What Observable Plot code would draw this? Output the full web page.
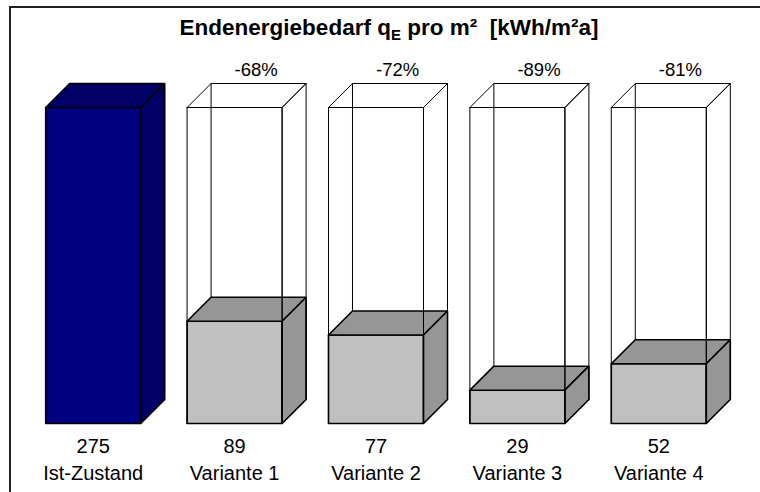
<!DOCTYPE html>
<html>
<head>
<meta charset="utf-8">
<script src="https://cdn.jsdelivr.net/npm/d3@7"></script>
<script src="https://cdn.jsdelivr.net/npm/@observablehq/plot@0.6"></script>
<style>
  html, body { margin: 0; padding: 0; background: #fff; }
  #wrap { position: relative; width: 760px; height: 492px; overflow: hidden; font-family: Arial, "Liberation Sans", sans-serif; }
  #frame { position: absolute; left: 9px; top: 6px; width: 800px; height: 600px; border-left: 2px solid #222; border-top: 2px solid #222; }
  #title { position: absolute; left: 9px; top: 15px; width: 760px; text-align: center; font: bold 22.5px Arial, "Liberation Sans", sans-serif; line-height: 26px; color: #000; }
  #title sub { font-size: 15px; vertical-align: -5px; line-height: 0; }
  #chart { position: absolute; left: 0; top: 0; }
</style>
</head>
<body>
<div id="wrap">
  <div id="frame"></div>
  <div id="chart"></div>
  <div id="title">Endenergiebedarf q<sub>E</sub> pro m²&nbsp; [kWh/m²a]</div>
</div>
<script>
// ---- data ----
const categories = ["Ist-Zustand", "Variante 1", "Variante 2", "Variante 3", "Variante 4"];
const values = [275, 89, 77, 29, 52];
const reductions = ["", "-68%", "-72%", "-89%", "-81%"];

// ---- geometry (in scale units) ----
const hw = 0.336;      // half width of front face (x units)
const dxv = 0.1697;    // depth offset x
const dyv = 20.886;    // depth offset y (value units)
const ref = values[0];

function faces(i, v, prefix) {
  const c = i, L = c - hw, R = c + hw;
  const f = [];
  const add = (name, pts) => pts.forEach(([x, y]) => f.push({id: prefix + i + name, x, y}));
  add("front", [[L, 0], [R, 0], [R, v], [L, v], [L, 0]]);
  add("top", [[L, v], [R, v], [R + dxv, v + dyv], [L + dxv, v + dyv], [L, v]]);
  add("side", [[R, 0], [R + dxv, dyv], [R + dxv, v + dyv], [R, v], [R, 0]]);
  return f;
}

const solidFront = [], solidTop = [], navyFront = [], navyTop = [], wire = [], backEdges = [];
values.forEach((v, i) => {
  const fs = faces(i, v, "b");
  if (i === 0) {
    fs.forEach(p => (p.id.endsWith("front") ? navyFront : navyTop).push(p));
  } else {
    fs.forEach(p => (p.id.endsWith("front") ? solidFront : solidTop).push(p));
    faces(i, ref, "w").forEach(p => wire.push(p));
    backEdges.push({x1: i - hw + dxv, y1: dyv, x2: i - hw + dxv, y2: ref + dyv});
  }
});

const lw = 1.6;
const chart = Plot.plot({
  width: 760,
  height: 492,
  marginLeft: 22,
  marginRight: 31,
  marginTop: 107,
  marginBottom: 69,
  x: {type: "linear", domain: [-0.5, 4.5], axis: null},
  y: {type: "linear", domain: [0, 275], axis: null},
  style: {fontFamily: "Arial, 'Liberation Sans', sans-serif", background: "transparent", color: "#000"},
  marks: [
    Plot.link(backEdges, {x1: "x1", y1: "y1", x2: "x2", y2: "y2", stroke: "#000", strokeWidth: 1}),
    Plot.line(navyFront, {x: "x", y: "y", z: "id", fill: "#000080", stroke: "#000", strokeWidth: lw, strokeLinejoin: "miter"}),
    Plot.line(navyTop, {x: "x", y: "y", z: "id", fill: "#000066", stroke: "#000", strokeWidth: lw, strokeLinejoin: "miter"}),
    Plot.line(solidFront, {x: "x", y: "y", z: "id", fill: "#c0c0c0", stroke: "#000", strokeWidth: lw, strokeLinejoin: "miter"}),
    Plot.line(solidTop, {x: "x", y: "y", z: "id", fill: "#969696", stroke: "#000", strokeWidth: lw, strokeLinejoin: "miter"}),
    Plot.line(wire, {x: "x", y: "y", z: "id", fill: "none", stroke: "#000", strokeWidth: 1, strokeLinejoin: "miter"}),
    Plot.text(values, {x: (d, i) => i, y: () => 0, text: d => String(d), dy: 23, fontSize: 20, fill: "#000"}),
    Plot.text(categories, {x: (d, i) => i, y: () => 0, text: d => d, dy: 50, fontSize: 20, fill: "#000"}),
    Plot.text(reductions, {filter: d => d !== "", x: (d, i) => i + dxv * 0.9, y: () => ref + dyv, text: d => d, dy: -13, fontSize: 18.5, fill: "#000"})
  ]
});
document.getElementById("chart").appendChild(chart);
</script>
</body>
</html>
